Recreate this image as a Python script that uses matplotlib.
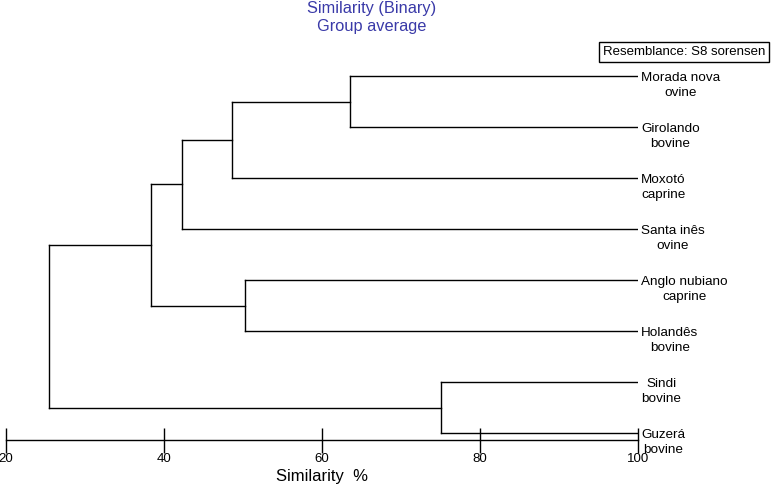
import matplotlib
matplotlib.use("Agg")
import matplotlib.pyplot as plt

plt.rcParams['font.family'] = ['Liberation Sans', 'DejaVu Sans']

# leaves, top to bottom
leaves = ["Morada nova\novine", "Girolando\nbovine", "Moxotó\ncaprine", "Santa inês\novine",
          "Anglo nubiano\ncaprine", "Holandês\nbovine", "Sindi\nbovine", "Guzerá\nbovine"]
# merges: (child a, child b, similarity %) ; new nodes numbered from len(leaves)
merge_a = [0, 8, 9, 4, 10, 6, 12]
merge_b = [1, 2, 3, 5, 11, 7, 13]
merge_sim = [63.6, 48.6, 42.3, 50.3, 38.4, 75.0, 25.5]
ticks = [20, 40, 60, 80, 100]

fig = plt.figure(figsize=(7.77, 4.87), dpi=100)
# axes: x 20..100 -> px 6..638, bottom at px 440, leaves every 51 px from y=76
top_px, bot_px = 40, 440
ax = fig.add_axes([6 / 777, 1 - bot_px / 487, (638 - 6) / 777, (bot_px - top_px) / 487])
y_lo = (bot_px - 76) / 51
y_hi = (top_px - 76) / 51
ax.set_ylim(y_lo, y_hi)
ax.set_xlim(20, 100)

pos_x = {i: 100.0 for i in range(len(leaves))}
pos_y = {i: float(i) for i in range(len(leaves))}
for k, (a, b, s) in enumerate(zip(merge_a, merge_b, merge_sim)):
    n = len(leaves) + k
    for c in (a, b):
        ax.plot([pos_x[c], s], [pos_y[c], pos_y[c]], color='black', lw=1)
    ax.plot([s, s], [pos_y[a], pos_y[b]], color='black', lw=1)
    pos_x[n] = s
    pos_y[n] = (pos_y[a] + pos_y[b]) / 2

for i, lab in enumerate(leaves):
    ax.text(100.4, i + 0.19, lab, ha='left', va='center', fontsize=9.7,
            multialignment='center', linespacing=1.4, clip_on=False)

for s in ['top', 'right', 'left']:
    ax.spines[s].set_visible(False)
ax.spines['bottom'].set_linewidth(1)
ax.set_yticks([])
ax.set_xticks(ticks)
ax.tick_params(axis='x', direction='inout', length=18, width=1, labelsize=9.5, pad=0)
ax.set_xlabel("Similarity  %", fontsize=12, labelpad=3)

fig.text(372 / 777, 1 - 9 / 487, "Similarity (Binary)", ha='center', va='center',
         fontsize=11.8, color='#3a3aa8')
fig.text(372 / 777, 1 - 26 / 487, "Group average", ha='center', va='center',
         fontsize=11.8, color='#3a3aa8')
fig.text(684 / 777, 1 - 52 / 487, "Resemblance: S8 sorensen", ha='center', va='center',
         fontsize=9.5, bbox=dict(boxstyle='square,pad=0.3', fc='white', ec='black', lw=1))

fig.savefig("out.png", dpi=100)
